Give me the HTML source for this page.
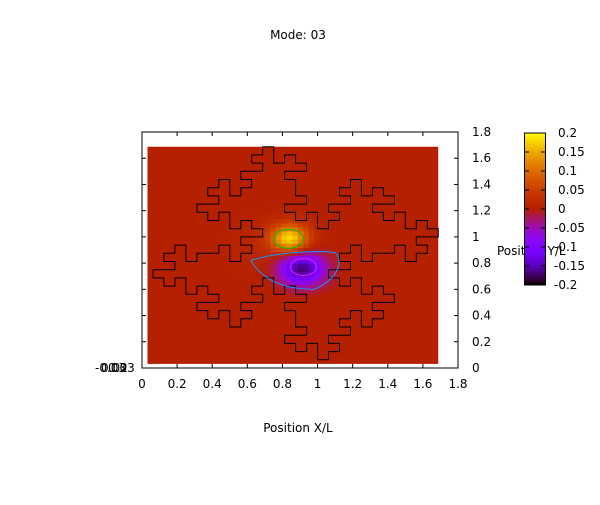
<!DOCTYPE html>
<html><head><meta charset="utf-8"><style>
body{margin:0;background:#fff}
svg text{font-family:"DejaVu Sans","Liberation Sans",sans-serif;font-size:12px;fill:#000}
</style></head><body>
<svg id="chart" width="600" height="500" viewBox="0 0 600 500" xmlns="http://www.w3.org/2000/svg">
<rect width="600" height="500" fill="#fff"/>
<text x="298" y="39" text-anchor="middle">Mode: 03</text>
<text x="298" y="432" text-anchor="middle">Position X/L</text>
<text x="497" y="255">Position Y/L</text>
<g id="heat"></g>
<g id="outline"></g>
<g id="contours"></g>
<rect x="142" y="132" width="316" height="236" fill="none" stroke="#000" stroke-width="1"/>
<g id="ticks"></g>
<g id="cbar"></g>
<text x="95" y="372">-0.03</text>
<text x="101" y="372">0.02</text>
<text x="108" y="372">0.03</text>
</svg>
<script>
const xTicks=["0","0.2","0.4","0.6","0.8","1","1.2","1.4","1.6","1.8"];
const yTicks=["0","0.2","0.4","0.6","0.8","1","1.2","1.4","1.6","1.8"];
const cbTicks=[0.2,0.15,0.1,0.05,0,-0.05,-0.1,-0.15,-0.2];
const cbLabels=["0.2","0.15","0.1","0.05","0","-0.05","-0.1","-0.15","-0.2"];
const blobX=[0.84,0.91,0.78];
const blobY=[0.99,0.76,0.92];
const blobAmp=[0.17,-0.18,0.015];
const blobSx=[0.075,0.09,0.2];
const blobSy=[0.075,0.085,0.18];
const meshOutline=[[11,27],[12,27],[12,25],[13,25],[13,26],[14,26],[14,25],[15,25],[15,24],[13,24],[13,23],[14,23],[14,21],[15,21],[15,20],[13,20],[13,19],[14,19],[14,18],[15,18],[15,19],[16,19],[16,17],[17,17],[17,18],[18,18],[18,19],[17,19],[17,20],[19,20],[19,21],[18,21],[18,22],[19,22],[19,23],[20,23],[20,21],[21,21],[21,22],[22,22],[22,21],[23,21],[23,20],[21,20],[21,19],[22,19],[22,18],[23,18],[23,19],[24,19],[24,17],[25,17],[25,18],[26,18],[26,17],[27,17],[27,16],[25,16],[25,15],[26,15],[26,14],[25,14],[25,13],[24,13],[24,15],[23,15],[23,14],[21,14],[21,13],[20,13],[20,15],[19,15],[19,14],[18,14],[18,13],[19,13],[19,12],[17,12],[17,11],[18,11],[18,10],[19,10],[19,11],[20,11],[20,9],[21,9],[21,10],[22,10],[22,9],[23,9],[23,8],[21,8],[21,7],[22,7],[22,6],[21,6],[21,5],[20,5],[20,7],[19,7],[19,6],[18,6],[18,5],[19,5],[19,4],[17,4],[17,3],[18,3],[18,2],[17,2],[17,1],[16,1],[16,3],[15,3],[15,2],[14,2],[14,3],[13,3],[13,4],[15,4],[15,5],[14,5],[14,7],[13,7],[13,8],[15,8],[15,9],[14,9],[14,10],[13,10],[13,9],[12,9],[12,11],[11,11],[11,10],[10,10],[10,9],[11,9],[11,8],[9,8],[9,7],[10,7],[10,6],[9,6],[9,5],[8,5],[8,7],[7,7],[7,6],[6,6],[6,7],[5,7],[5,8],[7,8],[7,9],[6,9],[6,10],[5,10],[5,9],[4,9],[4,11],[3,11],[3,10],[2,10],[2,11],[1,11],[1,12],[3,12],[3,13],[2,13],[2,14],[3,14],[3,15],[4,15],[4,13],[5,13],[5,14],[7,14],[7,15],[8,15],[8,13],[9,13],[9,14],[10,14],[10,15],[9,15],[9,16],[11,16],[11,17],[10,17],[10,18],[9,18],[9,17],[8,17],[8,19],[7,19],[7,18],[6,18],[6,19],[5,19],[5,20],[7,20],[7,21],[6,21],[6,22],[7,22],[7,23],[8,23],[8,21],[9,21],[9,22],[10,22],[10,23],[9,23],[9,24],[11,24],[11,25],[10,25],[10,26],[11,26]];
const NS="http://www.w3.org/2000/svg";
const X0=142,X1=458,Y0=368,Y1=132;
const sx=v=>X0+v/1.8*(X1-X0);
const sy=v=>Y0-v/1.8*(Y0-Y1);
const cy=v=>133+(0.2-v)/0.4*152;
function pal(g){g=Math.max(0,Math.min(1,g));const r=Math.sqrt(g),gg=g*g*g,b=Math.max(0,Math.sin(2*Math.PI*g));return `rgb(${Math.round(r*255)},${Math.round(gg*255)},${Math.round(b*255)})`;}
const col=v=>pal((v+0.2)/0.4);
function mk(t,a,p){const e=document.createElementNS(NS,t);for(const k in a)e.setAttribute(k,a[k]);p.appendChild(e);return e;}
function field(x,y){let s=0;for(let i=0;i<blobX.length;i++){const dx=(x-blobX[i])/blobSx[i],dy=(y-blobY[i])/blobSy[i];s+=blobAmp[i]*Math.exp(-0.5*(dx*dx+dy*dy));}return s;}
const heat=document.getElementById('heat');
const bg=mk('rect',{x:sx(0.5/16),y:sy(27/16),width:sx(27/16)-sx(0.5/16),height:sy(0.5/16)-sy(27/16),fill:col(0)},heat);


const step=1/32;
for(let x=0.45;x<1.35;x+=step){for(let y=0.45;y<1.3;y+=step){const v=field(x+step/2,y+step/2);if(Math.abs(v)<0.004)continue;
const c=mk('rect',{x:sx(x),y:sy(y+step),width:sx(x+step)-sx(x)+0.4,height:sy(y)-sy(y+step)+0.4,fill:col(v)},heat);

}}
const ol=document.getElementById('outline');
const pts=meshOutline.map(p=>sx(p[0]/16).toFixed(1)+','+sy(p[1]/16).toFixed(1)).join(' ');
const pg=mk('polygon',{points:pts,fill:'none',stroke:'#000','stroke-width':1},ol);


const ct=document.getElementById('contours');
const ce1=mk('ellipse',{cx:sx(0.835),cy:sy(0.985),rx:14.5,ry:9.5,fill:'none',stroke:'#00c000','stroke-width':1},ct);


const ce2=mk('ellipse',{cx:sx(0.92),cy:sy(0.77),rx:13,ry:8.5,fill:'none',stroke:'#e020e0','stroke-width':1},ct);


const ce3=mk('path',{d:`M${sx(0.62)},${sy(0.82)} C${sx(0.75)},${sy(0.88)} ${sx(1.0)},${sy(0.9)} ${sx(1.1)},${sy(0.88)} C${sx(1.15)},${sy(0.82)} ${sx(1.12)},${sy(0.68)} ${sx(0.98)},${sy(0.6)} C${sx(0.85)},${sy(0.6)} ${sx(0.7)},${sy(0.64)} ${sx(0.62)},${sy(0.82)}`,fill:'none',stroke:'#1e90ff','stroke-width':1},ct);


const tk=document.getElementById('ticks');
xTicks.forEach((l,i)=>{const v=i*0.2,x=sx(v);
mk('line',{x1:x,y1:Y0,x2:x,y2:Y0-4,stroke:'#000'},tk);
mk('line',{x1:x,y1:Y1,x2:x,y2:Y1+4,stroke:'#000'},tk);
const t=mk('text',{x:x,y:388,'text-anchor':'middle'},tk);t.textContent=l;

});
yTicks.forEach((l,i)=>{const v=i*0.2,y=sy(v);
mk('line',{x1:X1,y1:y,x2:X1-4,y2:y,stroke:'#000'},tk);
mk('line',{x1:X0,y1:y,x2:X0+4,y2:y,stroke:'#000'},tk);
const t=mk('text',{x:472,y:y+4},tk);t.textContent=l;

});
const cb=document.getElementById('cbar');
const defs=mk('defs',{},cb);
const lg=mk('linearGradient',{id:'cbg',x1:0,y1:1,x2:0,y2:0},defs);
for(let i=0;i<=40;i++){mk('stop',{offset:i/40,'stop-color':pal(i/40)},lg);}
const cr=mk('rect',{x:524.5,y:133,width:21,height:152,fill:'url(#cbg)',stroke:'#000','stroke-width':1},cb);


cbTicks.forEach((v,i)=>{const y=cy(v);
mk('line',{x1:524.5,y1:y,x2:529,y2:y,stroke:'#000'},cb);
mk('line',{x1:545.5,y1:y,x2:541,y2:y,stroke:'#000'},cb);
const t=mk('text',{x:v<0?554:558,y:y+4},cb);t.textContent=cbLabels[i];

});
</script>
</body></html>
